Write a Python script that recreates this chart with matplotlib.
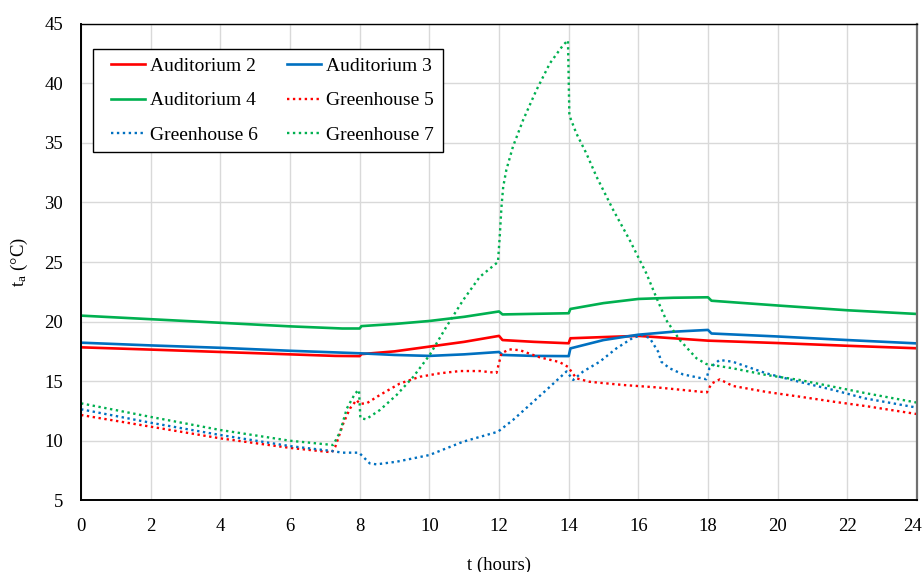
import matplotlib
matplotlib.use("Agg")
import matplotlib.pyplot as plt
import matplotlib.transforms as mtransforms
from matplotlib.lines import Line2D
from matplotlib.legend_handler import HandlerLine2D

plt.rcParams['font.family'] = ['Liberation Serif', 'DejaVu Serif']
plt.rcParams['mathtext.fontset'] = 'custom'
plt.rcParams['mathtext.rm'] = 'Liberation Serif'
plt.rcParams['mathtext.it'] = 'Liberation Serif:italic'

# Auditorium 2 (solid red)
t_aud2 = [0, 2, 4, 6, 7.3, 8.0, 8.05, 9, 10, 11, 12.0, 12.1, 13, 14.0, 14.05,
          15, 16, 17, 18, 20, 22, 24]
ta_aud2 = [17.84, 17.65, 17.45, 17.25, 17.12, 17.1, 17.27, 17.5, 17.9, 18.3, 18.8, 18.45,
           18.3, 18.18, 18.6, 18.7, 18.8, 18.6, 18.4, 18.2, 17.97, 17.76]

# Auditorium 3 (solid blue)
t_aud3 = [0, 2, 4, 6, 8, 9, 10, 11, 12.0, 12.1, 13, 14.0, 14.05, 15, 16, 17,
          18.0, 18.1, 20, 22, 24]
ta_aud3 = [18.23, 18.0, 17.8, 17.55, 17.34, 17.2, 17.12, 17.25, 17.45, 17.2, 17.12,
           17.1, 17.75, 18.45, 18.9, 19.15, 19.3, 19.0, 18.75, 18.45, 18.17]

# Auditorium 4 (solid green)
t_aud4 = [0, 2, 4, 6, 7.5, 8.0, 8.05, 9, 10, 11, 12.0, 12.1, 13, 14.0, 14.05,
          15, 16, 17, 18.0, 18.1, 20, 22, 24]
ta_aud4 = [20.5, 20.2, 19.9, 19.6, 19.42, 19.42, 19.62, 19.8, 20.05, 20.4, 20.85, 20.6,
           20.65, 20.7, 21.06, 21.55, 21.9, 22.0, 22.04, 21.75, 21.35, 20.95, 20.64]

# Greenhouse 5 (dotted red)
t_gh5 = [0, 2, 4, 6, 7.2, 7.3, 7.53, 7.72, 7.91, 8.0, 8.2, 8.58, 9.15, 9.73, 10.3,
         10.88, 11.45, 11.93, 12.07, 12.3, 12.6, 13.17, 13.74, 13.98, 14.22, 14.6,
         15.56, 16.52, 17.97, 18.1, 18.34, 18.71, 19.67, 20.63, 21.6, 22.55, 24]
ta_gh5 = [12.16, 11.18, 10.2, 9.4, 9.03, 9.5, 11.46, 12.7, 13.42, 13.1, 13.14, 13.84,
          14.8, 15.37, 15.66, 15.85, 15.85, 15.7, 17.34, 17.67, 17.6, 17.0, 16.6, 16.2,
          15.24, 14.95, 14.68, 14.48, 14.06, 14.8, 15.15, 14.6, 14.1, 13.7, 13.28, 12.9,
          12.24]

# Greenhouse 6 (dotted blue)
t_gh6 = [0, 2, 4, 6, 7.2, 7.5, 7.98, 8.29, 8.48, 9.06, 10.0, 10.97, 11.97, 12.4,
         12.88, 13.36, 13.94, 14.13, 14.41, 14.89, 15.37, 15.85, 16.13, 16.33, 16.57,
         16.66, 16.9, 17.28, 17.95, 18.04, 18.33, 18.71, 19.67, 20.6, 21.6, 22.5, 24]
ta_gh6 = [12.64, 11.51, 10.48, 9.55, 9.14, 9.0, 9.0, 8.1, 8.02, 8.24, 8.8, 9.92, 10.76,
          11.74, 13.0, 14.26, 15.82, 15.1, 15.8, 16.63, 17.75, 18.65, 18.87, 18.6, 17.47,
          16.63, 16.08, 15.57, 15.16, 16.08, 16.78, 16.63, 15.66, 14.96, 14.26, 13.56,
          12.78]

# Greenhouse 7 (dotted green)
t_gh7 = [0, 2, 4, 6, 7.24, 7.44, 7.63, 7.87, 7.98, 8.02, 8.18, 8.58, 9.06, 9.54,
         10.01, 10.49, 10.97, 11.45, 11.97, 12.02, 12.07, 12.12, 12.21, 12.4, 12.69,
         13.07, 13.46, 13.84, 13.98, 14.02, 14.22, 14.51, 14.8, 15.28, 15.75, 16.23,
         16.52, 16.8, 17.19, 17.67, 17.95, 18.71, 19.67, 20.63, 21.6, 22.55, 24]
ta_gh7 = [13.14, 12.0, 10.9, 10.0, 9.64, 10.76, 12.7, 13.98, 14.26, 11.9, 11.8, 12.58,
          13.84, 15.37, 17.2, 19.57, 21.8, 23.76, 25.0, 27.1, 29.6, 31.3, 32.72, 34.68,
          36.9, 39.4, 41.67, 43.2, 43.6, 37.3, 35.8, 34.1, 32.16, 29.36, 26.85, 24.05,
          22.0, 20.13, 18.45, 16.92, 16.44, 16.08, 15.52, 15.1, 14.53, 13.98, 13.2]

red, blue, green = '#FF0000', '#0070C0', '#00B050'
dot = (0, (1, 1.5))

fig = plt.figure(figsize=(9.24, 5.72), dpi=100)
ax = fig.add_axes([0.0877, 0.1253, 0.9047, 0.8333])

a2, = ax.plot(t_aud2, ta_aud2, color=red, lw=1.9, label='Auditorium 2')
a3, = ax.plot(t_aud3, ta_aud3, color=blue, lw=1.9, label='Auditorium 3')
a4, = ax.plot(t_aud4, ta_aud4, color=green, lw=1.9, label='Auditorium 4')
g5, = ax.plot(t_gh5, ta_gh5, color=red, lw=1.7, ls=dot, label='Greenhouse 5')
g6, = ax.plot(t_gh6, ta_gh6, color=blue, lw=1.7, ls=dot, label='Greenhouse 6')
g7, = ax.plot(t_gh7, ta_gh7, color=green, lw=1.7, ls=dot, label='Greenhouse 7')

ax.set_xlim(0, 24)
ax.set_ylim(5, 45)
ax.set_xticks(range(0, 25, 2))
ax.set_yticks(range(5, 46, 5))
ax.grid(True, color='#D9D9D9', lw=1)
ax.set_axisbelow(True)
ax.tick_params(length=0, labelsize=13.5, pad=13)

# nudge the last x label a little so it stays inside the figure
last = ax.get_xticklabels()[-1]
last.set_transform(last.get_transform() +
                   mtransforms.ScaledTranslation(-4 / 100, 0, fig.dpi_scale_trans))

ax.spines['left'].set_linewidth(1.4)
ax.spines['bottom'].set_linewidth(1.4)
ax.spines['top'].set_linewidth(1.0)
ax.spines['right'].set_color('#707070')
ax.spines['right'].set_linewidth(1.6)

ax.set_xlabel('t (hours)', fontsize=13.5, labelpad=15)
ax.set_ylabel(r't$_\mathrm{a}$ (°C)', fontsize=13.5, labelpad=10)

# legend is filled column by column, so order handles to read row by row
handles = [a2, a4, g6, a3, g5, g7]
leg = ax.legend(handles=handles, ncol=2, loc='upper left',
                bbox_to_anchor=(0.014, 0.947), borderaxespad=0, fontsize=14,
                frameon=True, fancybox=False, framealpha=1, edgecolor='black',
                handlelength=2.25, handletextpad=0.25, labelspacing=0.85,
                columnspacing=1.0, borderpad=0.45,
                handler_map={Line2D: HandlerLine2D(xpad=0.5)})
leg.get_frame().set_linewidth(1.0)

fig.savefig('out.png', dpi=100)
